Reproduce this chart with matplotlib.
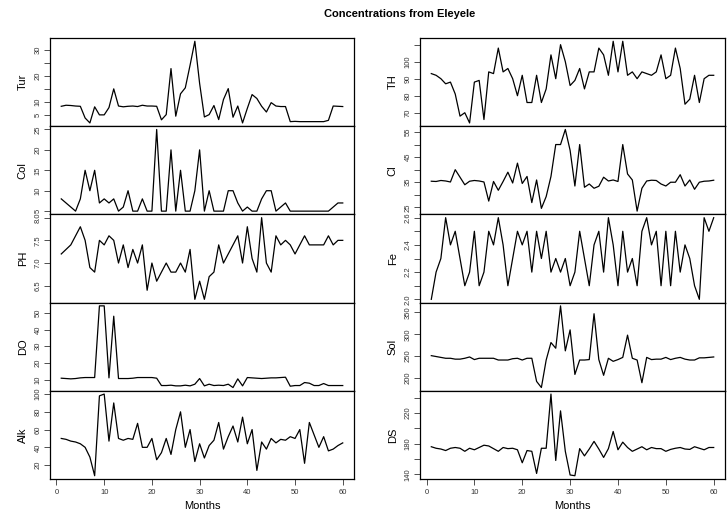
import matplotlib
matplotlib.use('Agg')
import matplotlib.pyplot as plt
import numpy as np

plt.rcParams['font.family'] = ['Liberation Sans', 'DejaVu Sans']

months = list(range(1, 61))

tur = [8.2, 8.6, 8.5, 8.3, 8.2, 3.7, 1.8, 8.0, 4.9, 4.9, 7.7, 14.9, 8.3, 8.0, 8.2, 8.3, 8.1, 8.6, 8.3, 8.3,
       8.2, 3.0, 5.0, 22.7, 4.4, 13.0, 15.3, 24.0, 33.2, 17.0, 4.1, 5.0, 8.5, 3.1, 10.8, 15.0, 4.0, 8.3, 1.8, 7.4,
       12.7, 11.2, 8.2, 6.0, 9.6, 8.3, 8.1, 8.1, 2.3, 2.4, 2.3, 2.3, 2.3, 2.3, 2.3, 2.3, 2.8, 8.3, 8.2, 8.1]
col = [8, 7, 6, 5, 8, 15, 10, 15, 7, 8, 7, 8, 5, 6, 10, 5, 5, 8, 5, 5,
       25, 5, 5, 20, 5, 15, 5, 5, 10, 20, 5, 10, 5, 5, 5, 10, 10, 7, 5, 6,
       5, 5, 8, 10, 10, 5, 6, 7, 5, 5, 5, 5, 5, 5, 5, 5, 5, 6, 7, 7]
ph = [7.2, 7.3, 7.4, 7.6, 7.8, 7.5, 6.9, 6.8, 7.5, 7.4, 7.6, 7.5, 7.0, 7.4, 6.9, 7.3, 7.0, 7.4, 6.4, 7.0,
      6.6, 6.8, 7.0, 6.8, 6.8, 7.0, 6.8, 7.3, 6.2, 6.6, 6.2, 6.7, 6.8, 7.4, 7.0, 7.2, 7.4, 7.6, 7.0, 7.8,
      7.1, 6.8, 8.0, 7.0, 6.8, 7.6, 7.4, 7.5, 7.4, 7.2, 7.4, 7.6, 7.4, 7.4, 7.4, 7.4, 7.6, 7.4, 7.5, 7.5]
do = [10.8, 10.6, 10.4, 10.6, 11.0, 11.2, 11.2, 11.2, 54.2, 54.2, 11.0, 48.0, 10.6, 10.6, 10.6, 10.8, 11.2, 11.2, 11.2, 11.2,
      10.8, 6.4, 6.4, 6.6, 6.2, 6.2, 6.6, 6.2, 7.2, 10.6, 6.2, 7.2, 6.4, 6.6, 6.4, 7.2, 5.2, 10.4, 6.2, 11.2,
      11.0, 10.8, 10.6, 10.8, 11.0, 11.0, 11.2, 11.4, 6.0, 6.4, 6.4, 8.2, 7.8, 6.4, 6.4, 7.6, 6.4, 6.4, 6.4, 6.4]
alk = [50, 49, 47, 46, 44, 40, 29, 8, 98, 100, 47, 90, 50, 48, 50, 49, 67, 40, 40, 50,
       26, 34, 50, 32, 60, 80, 40, 60, 24, 44, 28, 42, 48, 68, 38, 52, 64, 46, 74, 44,
       60, 14, 46, 38, 50, 45, 49, 48, 52, 50, 60, 22, 68, 54, 40, 52, 36, 38, 42, 45]

th = [93, 92, 90, 87, 88, 81, 68, 70, 64, 88, 89, 66, 94, 93, 108, 94, 96, 90, 80, 92,
      76, 76, 92, 76, 84, 104, 90, 110, 100, 86, 89, 96, 84, 94, 94, 108, 104, 92, 112, 94,
      112, 92, 94, 90, 94, 93, 92, 94, 104, 90, 92, 108, 96, 75, 78, 92, 76, 90, 92, 92]
cl = [35.4, 35.3, 35.7, 35.5, 35.1, 40.0, 37.0, 34.0, 35.4, 35.7, 35.5, 35.1, 27.5, 35.3, 31.8, 35.3, 39.0, 34.7, 42.6, 34.5,
      37.3, 26.9, 35.9, 24.6, 29.3, 37.3, 50.0, 50.0, 56.0, 47.7, 33.5, 50.0, 33.0, 34.3, 32.6, 33.4, 37.0, 35.5, 35.9, 35.3,
      50.0, 38.3, 35.9, 23.5, 32.6, 35.5, 35.8, 35.7, 34.3, 33.5, 35.0, 35.0, 38.0, 33.5, 35.9, 32.2, 35.0, 35.4, 35.5, 35.8]
fe = [2.0, 2.2, 2.3, 2.6, 2.4, 2.5, 2.3, 2.1, 2.2, 2.5, 2.1, 2.2, 2.5, 2.4, 2.6, 2.4, 2.1, 2.3, 2.5, 2.4,
      2.5, 2.2, 2.5, 2.3, 2.5, 2.2, 2.3, 2.2, 2.3, 2.1, 2.2, 2.5, 2.3, 2.1, 2.4, 2.5, 2.2, 2.6, 2.4, 2.1,
      2.5, 2.2, 2.3, 2.1, 2.5, 2.6, 2.4, 2.5, 2.1, 2.5, 2.1, 2.5, 2.2, 2.4, 2.3, 2.1, 2.0, 2.6, 2.5, 2.6]
sol = [251, 249, 247, 245, 245, 243, 243, 245, 248, 242, 245, 245, 245, 245, 241, 241, 241, 244, 245, 241,
       245, 245, 192, 178, 241, 281, 268, 365, 262, 310, 208, 241, 241, 242, 347, 242, 206, 245, 238, 242,
       247, 298, 245, 241, 189, 247, 242, 243, 243, 247, 242, 245, 247, 243, 241, 241, 246, 246, 247, 248]
ds = [176, 174, 173, 171, 174, 175, 174, 170, 174, 172, 175, 178, 177, 173.5, 170, 175, 173.5, 174, 172, 155,
      171, 170, 141, 174, 174, 245, 158, 223, 170, 139, 138, 173.5, 164, 173, 183, 173, 162, 173.5, 196, 172,
      182, 175, 170, 173, 176, 172, 175, 173.5, 173.5, 170, 172.5, 174, 175, 173, 172.5, 176, 174, 172, 175, 175]

left_names = ['Tur', 'Col', 'PH', 'DO', 'Alk']
right_names = ['TH', 'Cl', 'Fe', 'Sol', 'DS']
left_data = [tur, col, ph, do, alk]
right_data = [th, cl, fe, sol, ds]

# ticks and the labels R kept (blank ones were dropped for overlap)
left_ticks = [
    ([5, 10, 15, 20, 25, 30], ['5', '10', '', '20', '', '30']),
    ([5, 10, 15, 20, 25], ['5', '10', '15', '20', '25']),
    ([6.5, 7.0, 7.5, 8.0], ['6.5', '7.0', '7.5', '8.0']),
    ([10, 20, 30, 40, 50], ['10', '20', '30', '40', '50']),
    ([20, 40, 60, 80, 100], ['20', '40', '60', '80', '100']),
]
right_ticks = [
    ([70, 80, 90, 100, 110], ['70', '80', '90', '100', '']),
    ([25, 30, 35, 40, 45, 50, 55], ['25', '', '35', '', '45', '', '55']),
    ([2.0, 2.1, 2.2, 2.3, 2.4, 2.5, 2.6], ['2.0', '', '2.2', '', '2.4', '', '2.6']),
    ([200, 250, 300, 350], ['200', '250', '300', '350']),
    ([140, 160, 180, 200, 220, 240], ['140', '', '180', '', '220', '']),
]

fig = plt.figure(figsize=(7.28, 5.19), dpi=100)

top = 1 - 38 / 519
bottom = 1 - 479 / 519
h = (top - bottom) / 5
cols = [(50 / 728, 304 / 728), (420 / 728, 305 / 728)]

for c, (names, data, ticks) in enumerate([(left_names, left_data, left_ticks),
                                           (right_names, right_data, right_ticks)]):
    x0, w = cols[c]
    for i in range(5):
        ax = fig.add_axes([x0, top - (i + 1) * h, w, h])
        ax.plot(months, data[i], color='black', lw=0.9)
        ax.margins(x=0.04, y=0.04)
        ax.set_yticks(ticks[i][0], ticks[i][1])
        ax.tick_params(axis='y', labelrotation=90, labelsize=5.5, length=4, width=0.6,
                       pad=2, colors='#333333', labelcolor='#333333')
        for lab in ax.get_yticklabels():
            lab.set_va('center')
        ax.set_ylabel(names[i], fontsize=8, labelpad=5)
        for sp in ax.spines.values():
            sp.set_linewidth(0.9)
        if i < 4:
            ax.set_xticks([])
        else:
            ax.set_xticks([0, 10, 20, 30, 40, 50, 60])
            ax.tick_params(axis='x', labelsize=5.5, length=4, width=0.6, pad=3,
                           colors='#333333', labelcolor='#333333')
            ax.set_xlabel('Months', fontsize=8, labelpad=4)

fig.text(400 / 728, 1 - 14 / 519, 'Concentrations from Eleyele', fontsize=8,
         fontweight='bold', ha='center', va='center')

fig.savefig('out.png', dpi=100)
